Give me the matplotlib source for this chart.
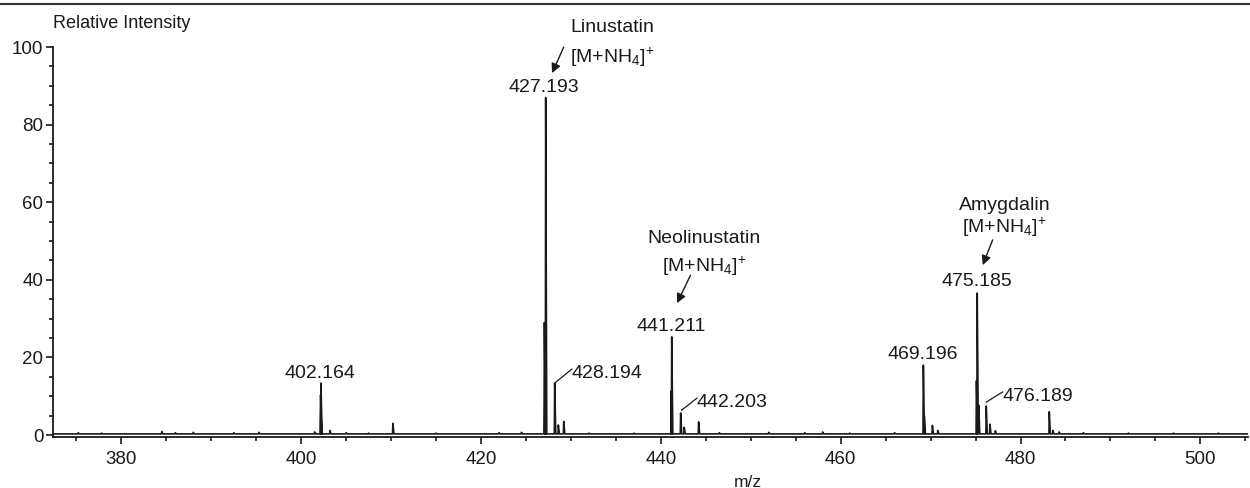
import matplotlib
matplotlib.use("Agg")
import matplotlib.pyplot as plt
import numpy as np

plt.rcParams['font.family'] = ['Liberation Sans', 'DejaVu Sans']
plt.rcParams['mathtext.fontset'] = 'custom'
plt.rcParams['mathtext.rm'] = 'Liberation Sans'
plt.rcParams['mathtext.it'] = 'Liberation Sans'

# centroid peaks (m/z, relative intensity %)
peak_mz = [402.16, 402.20, 403.2, 410.2,
           427.05, 427.12, 427.193, 428.194, 428.6, 429.2,
           441.15, 441.211, 442.203, 442.6, 444.2,
           469.196, 469.3, 470.2, 470.8,
           475.10, 475.185, 475.35, 476.189, 476.6, 477.2,
           483.2, 483.6, 484.3]
peak_int = [10.3, 13.4, 1.2, 3.0,
            29.0, 19.3, 87.0, 13.4, 2.6, 3.5,
            11.3, 25.3, 5.7, 2.0, 3.4,
            18.0, 5.0, 2.5, 1.2,
            14.0, 36.6, 7.7, 7.5, 2.8, 1.1,
            6.0, 1.2, 0.8]

# small noise bumps along the baseline
noise_mz = [375.2, 377.8, 384.5, 386.0, 388.0, 392.5, 395.3, 401.5,
            405.0, 407.5, 415.0, 422.0, 424.5, 432.0, 437.0, 446.5,
            452.0, 456.0, 458.0, 461.0, 466.0, 487.0, 492.0, 497.0, 502.0]
noise_int = [0.6, 0.5, 0.9, 0.6, 0.7, 0.6, 0.7, 0.8,
             0.6, 0.5, 0.5, 0.6, 0.7, 0.5, 0.5, 0.6,
             0.7, 0.6, 0.8, 0.5, 0.6, 0.6, 0.5, 0.5, 0.5]
baseline = 0.3

# labelled peaks: (text, x, y baseline)
peak_labels = [("402.164", 402.1, 14.7), ("427.193", 427.0, 88.4),
               ("441.211", 441.1, 26.8), ("469.196", 469.1, 19.6),
               ("475.185", 475.1, 38.4)]
# side labels with leader lines: (text, peak x, peak y, text x, text y)
side_labels = [("428.194", 428.2, 13.4, 430.1, 17.0),
               ("442.203", 442.3, 6.4, 444.0, 9.5),
               ("476.189", 476.2, 8.5, 478.0, 11.1)]
# compound names: (name, x, name y, ion y, arrow start, arrow end)
compounds = [("Linustatin", 434.6, 103.9, 96.1, (429.2, 100.0), (427.9, 93.3)),
             ("Neolinustatin", 444.8, 49.5, 42.0, (443.3, 41.2), (441.8, 34.0)),
             ("Amygdalin", 478.2, 58.0, 52.1, (476.9, 50.3), (475.8, 43.8))]

fig = plt.figure(figsize=(12.5, 4.88), dpi=100)
ax = fig.add_axes([0.0424, 0.1045, 0.956, 0.799])

ink = '#1a1a1a'

# build the profile trace: each peak rises sharply and tails off to the right
mz_all = np.array(peak_mz + noise_mz)
int_all = np.array(peak_int + noise_int)
order = np.argsort(mz_all)
tx, ty = [372.4], [baseline]
for m, h in zip(mz_all[order], int_all[order]):
    tx += [m - 0.04, m, m + 0.12]
    ty += [baseline, h, baseline]
tx.append(505.3)
ty.append(baseline)
ax.plot(tx, ty, color=ink, lw=1.2)

ax.set_xlim(372.4, 505.3)
ax.set_ylim(-0.5, 100)
ax.set_xticks(np.arange(380, 501, 20))
ax.set_xticks(np.arange(375, 506, 5), minor=True)
ax.set_yticks(np.arange(0, 101, 20))
ax.set_yticks(np.arange(0, 101, 5), minor=True)
for s in ['top', 'right']:
    ax.spines[s].set_visible(False)
for s in ['left', 'bottom']:
    ax.spines[s].set_linewidth(1.3)
    ax.spines[s].set_color(ink)
ax.tick_params(which='major', length=5, width=1.2, color=ink, labelsize=13.5,
               labelcolor=ink)
ax.tick_params(which='minor', length=3, width=1.2, color=ink)
ax.tick_params(axis='y', pad=2)
ax.tick_params(axis='x', pad=5)

fs = 14
for txt, x, y in peak_labels:
    ax.text(x, y, txt, ha='center', va='baseline', fontsize=fs, color=ink)

for txt, px, py, tx_, ty_ in side_labels:
    ax.plot([px, tx_], [py, ty_], color=ink, lw=0.9)
    ax.text(tx_, ty_ - 2.3, txt, ha='left', va='baseline', fontsize=fs,
            color=ink)

ion = r'[M+NH$_4$]$^{+}$'
for name, x, ny, iy, a0, a1 in compounds:
    ax.text(x, ny, name, ha='center', va='baseline', fontsize=fs, color=ink,
            clip_on=False)
    ax.text(x, iy, ion, ha='center', va='baseline', fontsize=fs, color=ink,
            clip_on=False)
    ax.annotate('', xy=a1, xytext=a0,
                arrowprops=dict(arrowstyle='-|>', color=ink, lw=1.0,
                                mutation_scale=14, shrinkA=0, shrinkB=0),
                annotation_clip=False)

fig.text(0.0424, 0.9426, 'Relative Intensity', fontsize=13, color=ink,
         ha='left', va='baseline')
fig.text(748 / 1250, 0.0266, 'm/z', fontsize=12.5, color=ink, ha='center',
         va='top')

# frame line across the top
fig.add_artist(plt.Line2D([0, 1], [0.992, 0.992], color='#333333', lw=1.5))

fig.savefig('out.png', dpi=100)
